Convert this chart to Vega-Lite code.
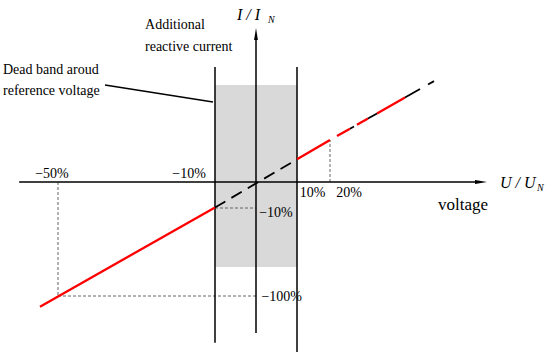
{
  "$schema": "https://vega.github.io/schema/vega-lite/v6.json",
  "width": 550,
  "height": 359,
  "padding": 0,
  "autosize": {"type": "none"},
  "background": "white",
  "config": {"view": {"stroke": null}},
  "datasets": {
    "band": [{"x": -10, "x2": 10, "y": -70.3, "y2": 37.3}],
    "segs": [
      {"kind": "axis", "x": -59.9, "y": 0, "x2": 65.5, "y2": 0},
      {"kind": "axis", "x": 0, "y": -137.8, "x2": 0, "y2": 54.6},
      {"kind": "axis", "x": -10, "y": -147.7, "x2": -10, "y2": 44.2},
      {"kind": "axis", "x": 10, "y": -157.2, "x2": 10, "y2": 44.2},
      {"kind": "leader", "x": -38.03, "y": 37.31, "x2": -10.51, "y2": 30.77},
      {"kind": "guide", "x": -50, "y": 0, "x2": -50, "y2": -100},
      {"kind": "guide", "x": -50, "y": -100, "x2": 0, "y2": -100},
      {"kind": "guide", "x": -10, "y": -10, "x2": 0, "y2": -10},
      {"kind": "guide", "x": 20, "y": 0, "x2": 20, "y2": 16.15},
      {"kind": "red", "x": -54.59, "y": -110.9, "x2": -10, "y2": -9.8},
      {"kind": "red", "x": 10, "y": 8.73, "x2": 20, "y2": 16.15},
      {"kind": "red", "x": 22.12, "y": 17.68, "x2": 26.06, "y2": 20.51},
      {"kind": "red", "x": 28.18, "y": 22.03, "x2": 31.52, "y2": 24.43},
      {"kind": "red", "x": 34.24, "y": 26.38, "x2": 42.73, "y2": 32.48},
      {"kind": "black", "x": 26.06, "y": 20.51, "x2": 27.27, "y2": 21.38},
      {"kind": "black", "x": 31.52, "y": 24.43, "x2": 34.24, "y2": 26.38},
      {"kind": "black", "x": 42.73, "y": 32.48, "x2": 47.27, "y2": 35.75},
      {"kind": "black", "x": 49.7, "y": 37.49, "x2": 51.52, "y2": 38.79},
      {"kind": "center", "x": -10, "y": -9.8, "x2": 10, "y2": 8.73}
    ],
    "arrows": [
      {"dir": "right", "x": 65.76, "y": 0},
      {"dir": "up", "x": 0, "y": 56.9}
    ],
    "labels": [
      {"kind": "note", "x": -27.83, "y": 60.38, "text": "Additional"},
      {"kind": "note", "x": -27.83, "y": 51.92, "text": "reactive current"},
      {"kind": "note", "x": -64.01, "y": 43.08, "text": "Dead band aroud"},
      {"kind": "note", "x": -64.01, "y": 35.0, "text": "reference voltage"},
      {"kind": "tick", "x": -51.53, "y": 3.08, "text": "−50%"},
      {"kind": "tick", "x": -16.62, "y": 3.08, "text": "−10%"},
      {"kind": "tick", "x": 4.88, "y": -14.81, "text": "−10%"},
      {"kind": "tick", "x": 14.7, "y": -4.23, "text": "10%"},
      {"kind": "tick", "x": 25.76, "y": -4.23, "text": "20%"},
      {"kind": "tick", "x": 6.27, "y": -101.3, "text": "−100%"},
      {"kind": "big", "x": 60.3, "y": -8.85, "text": "voltage"},
      {"kind": "ital", "x": -4.63, "y": 64.23, "text": "I / I"},
      {"kind": "sub", "x": 2.93, "y": 62.31, "text": "N"},
      {"kind": "ital", "x": 71.52, "y": -0.38, "text": "U / U"},
      {"kind": "sub", "x": 82.73, "y": -2.31, "text": "N"}
    ]
  },
  "encoding": {
    "x": {"field": "x", "type": "quantitative", "axis": null,
          "scale": {"domain": [-50, -10, 0, 10, 20], "range": [58, 215, 256, 297, 330], "nice": false, "zero": false}},
    "y": {"field": "y", "type": "quantitative", "axis": null,
          "scale": {"domain": [-100, -10, 0, 10], "range": [296, 208, 182, 156], "nice": false, "zero": false}}
  },
  "layer": [
    {
      "data": {"name": "band"},
      "mark": {"type": "rect", "color": "#d9d9d9"},
      "encoding": {"x2": {"field": "x2"}, "y2": {"field": "y2"}}
    },
    {
      "data": {"name": "segs"},
      "transform": [{"filter": "datum.kind === 'guide'"}],
      "mark": {"type": "rule", "color": "#555555", "strokeWidth": 0.9, "strokeDash": [3, 2]},
      "encoding": {"x2": {"field": "x2"}, "y2": {"field": "y2"}}
    },
    {
      "data": {"name": "segs"},
      "transform": [{"filter": "datum.kind === 'axis'"}],
      "mark": {"type": "rule", "color": "black", "strokeWidth": 1.5},
      "encoding": {"x2": {"field": "x2"}, "y2": {"field": "y2"}}
    },
    {
      "data": {"name": "segs"},
      "transform": [{"filter": "datum.kind === 'leader'"}],
      "mark": {"type": "rule", "color": "black", "strokeWidth": 1.3},
      "encoding": {"x2": {"field": "x2"}, "y2": {"field": "y2"}}
    },
    {
      "data": {"name": "segs"},
      "transform": [{"filter": "datum.kind === 'red'"}],
      "mark": {"type": "rule", "color": "#ff0000", "strokeWidth": 2.3},
      "encoding": {"x2": {"field": "x2"}, "y2": {"field": "y2"}}
    },
    {
      "data": {"name": "segs"},
      "transform": [{"filter": "datum.kind === 'black'"}],
      "mark": {"type": "rule", "color": "black", "strokeWidth": 1.8},
      "encoding": {"x2": {"field": "x2"}, "y2": {"field": "y2"}}
    },
    {
      "data": {"name": "segs"},
      "transform": [{"filter": "datum.kind === 'center'"}],
      "mark": {"type": "rule", "color": "black", "strokeWidth": 1.8, "strokeDash": [12, 7]},
      "encoding": {"x2": {"field": "x2"}, "y2": {"field": "y2"}}
    },
    {
      "data": {"name": "arrows"},
      "transform": [{"filter": "datum.dir === 'right'"}],
      "mark": {"type": "point", "shape": "M-1,-0.32L1,0L-1,0.32Z", "size": 144, "filled": true, "color": "black", "opacity": 1}
    },
    {
      "data": {"name": "arrows"},
      "transform": [{"filter": "datum.dir === 'up'"}],
      "mark": {"type": "point", "shape": "M-0.32,1L0,-1L0.32,1Z", "size": 144, "filled": true, "color": "black", "opacity": 1}
    },
    {
      "data": {"name": "labels"},
      "transform": [{"filter": "datum.kind === 'note'"}],
      "mark": {"type": "text", "align": "left", "baseline": "middle", "font": "Liberation Serif", "fontSize": 14, "color": "black"},
      "encoding": {"text": {"field": "text"}}
    },
    {
      "data": {"name": "labels"},
      "transform": [{"filter": "datum.kind === 'tick'"}],
      "mark": {"type": "text", "align": "center", "baseline": "middle", "font": "Liberation Serif", "fontSize": 14, "color": "black"},
      "encoding": {"text": {"field": "text"}}
    },
    {
      "data": {"name": "labels"},
      "transform": [{"filter": "datum.kind === 'big'"}],
      "mark": {"type": "text", "align": "center", "baseline": "middle", "font": "Liberation Serif", "fontSize": 17, "color": "black"},
      "encoding": {"text": {"field": "text"}}
    },
    {
      "data": {"name": "labels"},
      "transform": [{"filter": "datum.kind === 'ital'"}],
      "mark": {"type": "text", "align": "left", "baseline": "middle", "font": "Liberation Serif", "fontStyle": "italic", "fontSize": 16, "color": "black"},
      "encoding": {"text": {"field": "text"}}
    },
    {
      "data": {"name": "labels"},
      "transform": [{"filter": "datum.kind === 'sub'"}],
      "mark": {"type": "text", "align": "left", "baseline": "middle", "font": "Liberation Serif", "fontStyle": "italic", "fontSize": 10, "color": "black"},
      "encoding": {"text": {"field": "text"}}
    }
  ]
}
